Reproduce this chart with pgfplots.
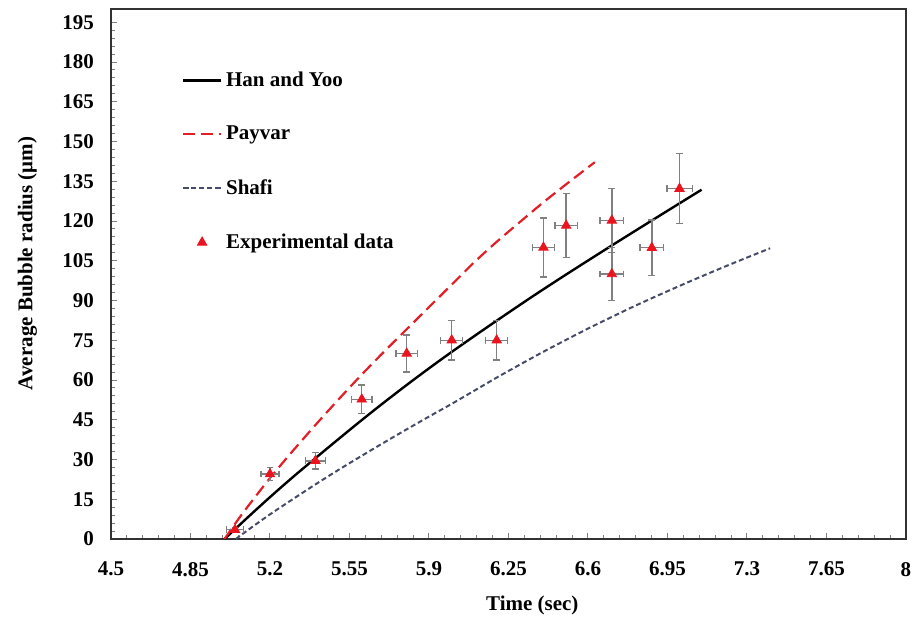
\documentclass[border=0pt]{standalone}
\usepackage{fontspec}
\setmainfont{Liberation Serif}
\usepackage{pgfplots}
\pgfplotsset{compat=1.18}
\usepackage{pgfplotstable}

\definecolor{payvarred}{RGB}{226,30,38}
\definecolor{markred}{RGB}{235,20,30}
\definecolor{shafiblue}{RGB}{70,76,104}
\definecolor{axisgray}{RGB}{50,50,50}
\definecolor{errgray}{RGB}{128,128,128}

% experimental data: time, radius, x error, y error
\pgfplotstableread{
t      r      ex     ey
5.046  3.5    0.037  0.6
5.200  24.5   0.040  2.4
5.400  29.5   0.044  3.1
5.604  52.7   0.046  5.4
5.802  70.0   0.047  7.0
6.000  75.0   0.048  7.5
6.198  75.0   0.048  7.5
6.404  110.0  0.048  11.2
6.504  118.3  0.050  12.0
6.705  120.2  0.052  12.0
6.705  100.0  0.052  10.0
6.881  109.9  0.052  10.5
7.003  132.2  0.056  13.2
}\expdata

\begin{document}
\begin{tikzpicture}
\begin{axis}[
    scale only axis,
    width=397.5pt, height=265pt,
    xmin=4.5, xmax=8,
    ymin=0, ymax=200,
    xtick={4.5,4.85,5.2,5.55,5.9,6.25,6.6,6.95,7.3,7.65,8},
    xticklabels={4.5,4.85,5.2,5.55,5.9,6.25,6.6,6.95,7.3,7.65,8},
    ytick={0,15,...,195},
    minor x tick num=4,
    minor y tick num=4,
    tick pos=left,
    tick align=inside,
    major tick length=3pt,
    minor tick length=2pt,
    every tick/.style={errgray, line width=0.5pt},
    axis line style={axisgray, line width=1pt},
    font=\fontsize{10.5}{12}\selectfont\bfseries,
    /pgf/number format/assume math mode=true,
    xticklabel style={yshift=-8pt},
    yticklabel style={xshift=-5pt},
    xlabel={Time (sec)},
    ylabel={Average Bubble radius (μm)},
    xlabel style={at={(axis description cs:0.53,-0.125)}, anchor=center},
    ylabel style={at={(axis description cs:-0.105,0.52)}, anchor=center},
    legend cell align=left,
    legend style={draw=none, fill=none, at={(rel axis cs:0.089,0.89)},
        anchor=north west, row sep=14.3pt, inner sep=0pt,
        nodes={inner sep=2pt}},
    legend image code/.code={\draw[mark repeat=2,mark phase=2]
        plot coordinates {(0cm,0cm) (0.33cm,0cm) (0.66cm,0cm)};},
]
\addplot[black, line width=1.2pt, no marks, smooth] coordinates {
    (5.0,0) (5.1,8) (5.2,15.8) (5.3,23.3) (5.4,30.5) (5.5,37.6) (5.6,44.6)
    (5.7,51.4) (5.8,58) (5.9,64.4) (6.0,70.6) (6.1,76.6) (6.2,82.5)
    (6.35,91.2) (6.5,99.6) (6.7,110.5) (6.9,121.2) (7.1,131.8)
};
\addlegendentry{Han and Yoo}
\addplot[payvarred, line width=1.1pt, dash pattern=on 6pt off 3pt, no marks, smooth] coordinates {
    (5.0,0) (5.05,6.2) (5.1,12) (5.2,23) (5.3,33.2) (5.4,43) (5.5,52.5)
    (5.6,61.7) (5.7,70.5) (5.8,79) (6.0,96) (6.1,104.5) (6.2,112.3)
    (6.3,119.6) (6.4,126.8) (6.5,133.6) (6.63,142.2)
};
\addlegendentry{Payvar}
\addplot[shafiblue, line width=1pt, dash pattern=on 2.5pt off 1.5pt, no marks, smooth] coordinates {
    (5.05,0) (5.1,3.2) (5.2,9.3) (5.3,15) (5.4,20.6) (5.5,26) (5.6,31.2)
    (5.7,36.3) (5.8,41.3) (5.9,46.2) (6.0,51) (6.1,56) (6.2,61) (6.3,65.8)
    (6.4,70.5) (6.5,75) (6.6,79.4) (6.7,83.6) (6.8,87.7) (6.9,91.6)
    (7.0,95.4) (7.1,99.1) (7.2,102.7) (7.3,106.2) (7.402,109.7)
};
\addlegendentry{Shafi}
\addplot[only marks, mark=triangle*, mark size=2.7pt,
    mark options={draw=markred, fill=markred},
    error bars/.cd,
    x dir=both, x explicit,
    y dir=both, y explicit,
    error bar style={errgray, line width=0.7pt},
    error mark options={rotate=90, errgray, mark size=1.7pt, line width=0.7pt},
] table[x=t, y=r, x error=ex, y error=ey] {\expdata};
\addlegendentry{Experimental data}
\coordinate (bl) at (axis description cs:-0.1396,-0.1717);
\coordinate (tr) at (axis description cs:1.0126,1.017);
\end{axis}
\pgfresetboundingbox
\useasboundingbox (bl) rectangle (tr);
\end{tikzpicture}
\end{document}
